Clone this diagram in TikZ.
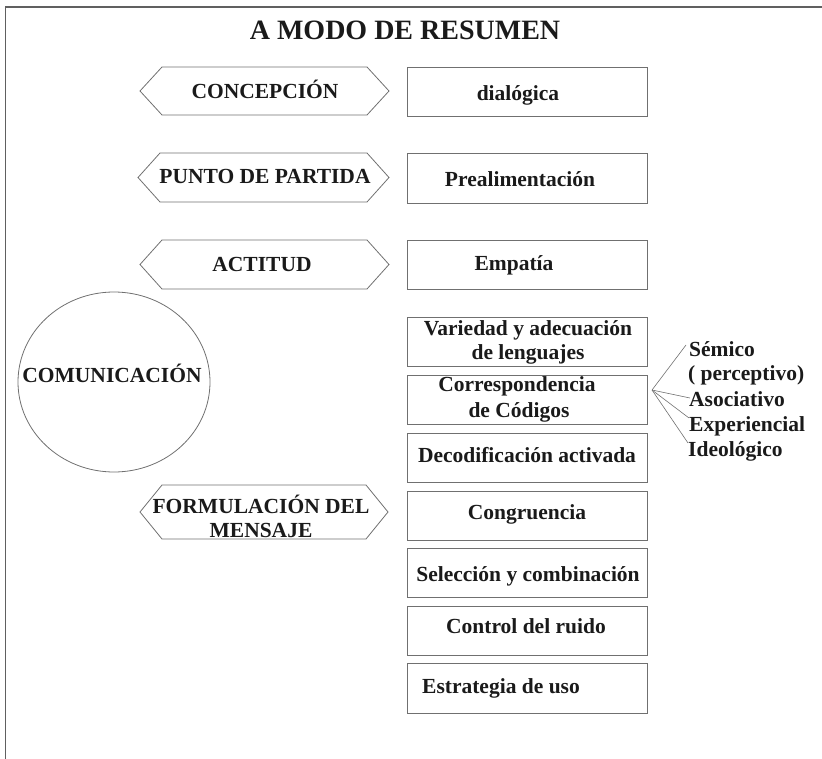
\documentclass[tikz,border=0pt]{standalone}
\usepackage{fontspec}
\usetikzlibrary{shapes.geometric}
\setmainfont{Liberation Serif}
\definecolor{linegray}{HTML}{707070}
\definecolor{framegray}{HTML}{606060}
\definecolor{inkblack}{HTML}{1A1A1A}
\newcommand\hexagono[4]{%
  \draw[hexline] (#1,{(#3+#4)/2}) -- (#1+22,#3) -- (#2-22,#3) -- (#2,{(#3+#4)/2}) -- (#2-22,#4) -- (#1+22,#4) -- cycle;}
\begin{document}
\begin{tikzpicture}[x=1pt,y=-1pt,
  lbl/.style={font=\bfseries\fontsize{21.5}{24}\selectfont, inner sep=0pt, text=inkblack, anchor=base},
  ttl/.style={font=\bfseries\fontsize{28}{32}\selectfont, inner sep=0pt, text=inkblack, anchor=base},
  boxnode/.style={draw=linegray, line width=0.8pt, minimum width=240pt, minimum height=49pt, inner sep=0pt},
  hexline/.style={draw=linegray, line width=0.8pt},
  frame/.style={draw=framegray, line width=1.2pt},
  conn/.style={draw=linegray, line width=0.6pt}]
\useasboundingbox (0,0) rectangle (822,759);
% frame lines
\draw[frame] (5.5,759) -- (5.5,7) -- (822,7);
% title
\node[ttl] (title) at (405,40) {A MODO DE RESUMEN};
% hexagons
\hexagono{140}{389}{67}{115}
\hexagono{138}{389}{153}{202}
\hexagono{140}{389}{240}{289}
\hexagono{140}{388}{485}{539}
\node[lbl] (conc) at (265,98.5) {CONCEPCIÓN};
\node[lbl] (punto) at (265,184) {PUNTO DE PARTIDA};
\node[lbl] (acti) at (262,272) {ACTITUD};
\node[lbl] (form1) at (261,513) {FORMULACIÓN DEL};
\node[lbl] (form2) at (261,537.5) {MENSAJE};
% circle
\node[draw=linegray, line width=0.8pt, ellipse, minimum width=192pt, minimum height=180pt, inner sep=0pt] (circ) at (114,382) {};
\node[lbl] (comu) at (112,382) {COMUNICACIÓN};
% boxes
\node[boxnode, minimum height=49pt] (b1) at (527.5,91.5) {};
\node[boxnode, minimum height=50pt] (b2) at (527.5,178) {};
\node[boxnode, minimum height=49pt] (b3) at (527.5,264.5) {};
\node[boxnode] (b4) at (527,341.5) {};
\node[boxnode] (b5) at (527,399.5) {};
\node[boxnode] (b6) at (527,457.5) {};
\node[boxnode] (b7) at (527,515.5) {};
\node[boxnode] (b8) at (527,572.5) {};
\node[boxnode] (b9) at (527,630.5) {};
\node[boxnode, minimum height=50pt] (b10) at (527,688) {};
% box texts
\node[lbl] (t1) at (518,101) {dialógica};
\node[lbl] (t2) at (520,187) {Prealimentación};
\node[lbl] (t3) at (514,270.5) {Empatía};
\node[lbl] (t4a) at (528,335) {Variedad y adecuación};
\node[lbl] (t4b) at (528,359.5) {de lenguajes};
\node[lbl] (t5a) at (517,391) {Correspondencia};
\node[lbl] (t5b) at (519,417) {de Códigos};
\node[lbl] (t6) at (527,462) {Decodificación activada};
\node[lbl] (t7) at (527,519) {Congruencia};
\node[lbl] (t8) at (528,581) {Selección y combinación};
\node[lbl] (t9) at (526,633) {Control del ruido};
\node[lbl] (t10) at (501,693) {Estrategia de uso};
% right labels
\node[lbl, anchor=base west] (sem) at (689,356.5) {Sémico};
\node[lbl, anchor=base west] (perc) at (688,381) {( perceptivo)};
\node[lbl, anchor=base west] (aso) at (689,406) {Asociativo};
\node[lbl, anchor=base west] (exper) at (689,431) {Experiencial};
\node[lbl, anchor=base west] (ideo) at (688,456) {Ideológico};
% connectors
\coordinate (hub) at (652,390);
\coordinate (e1) at (686,345);
\coordinate (e2) at (690,398);
\coordinate (e3) at (689,418);
\coordinate (e4) at (688,443);
\draw[conn] (hub) -- (e1);
\draw[conn] (hub) -- (e2);
\draw[conn] (hub) -- (e3);
\draw[conn] (hub) -- (e4);
\end{tikzpicture}
\end{document}
